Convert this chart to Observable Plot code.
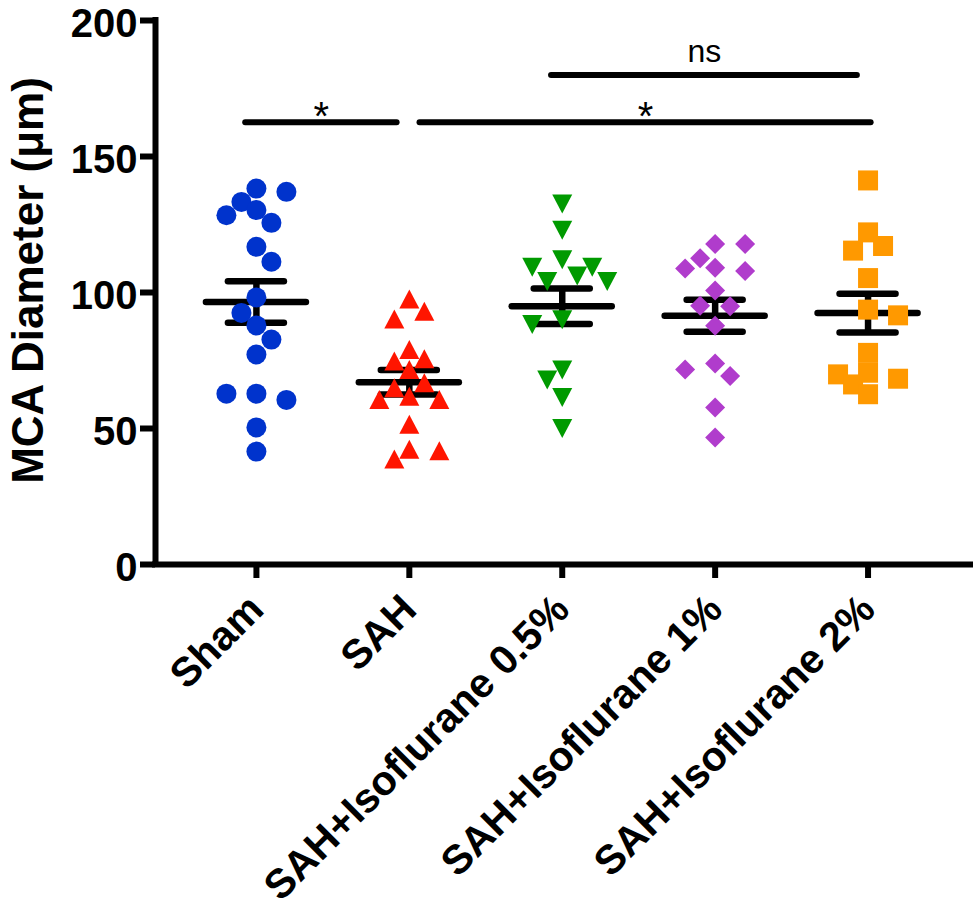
<!DOCTYPE html>
<html>
<head>
<meta charset="utf-8">
<script src="https://cdn.jsdelivr.net/npm/d3@7"></script>
<script src="https://cdn.jsdelivr.net/npm/@observablehq/plot@0.6"></script>
<style>
  html, body { margin: 0; padding: 0; background: #fff; }
</style>
</head>
<body>
<div id="chart"></div>
<script>
// ---------------- data ----------------
const groups = ["Sham", "SAH", "SAH+Isoflurane 0.5%", "SAH+Isoflurane 1%", "SAH+Isoflurane 2%"];
const sham  = [138.2, 137, 133.3, 128.4, 130.3, 125.6, 116.8, 111.3, 98.2, 92.5, 87.9, 82.7, 77.2, 62.8, 60.5, 62.8, 50.4, 41.5];
const sah   = [97.6, 93.1, 90.3, 79.0, 75.6, 74.8, 71.7, 66.8, 65.0, 61.9, 60.7, 60.7, 51.6, 42.4, 41.8, 38.8];
const iso05 = [132.5, 122.9, 112, 109.3, 109.3, 106.1, 104, 104, 88.2, 90, 71.5, 67.8, 61.4, 50];
const iso1  = [117.8, 117.8, 112.6, 109.1, 107.9, 108.8, 100.7, 95.1, 94.9, 87.8, 71.7, 73.9, 69.3, 57.7, 46.7];
const iso2  = [141.2, 122.1, 117.1, 115.4, 105.3, 91.6, 93.7, 77.8, 70.5, 68.3, 69.9, 66.2, 62.6];
const series = [sham, sah, iso05, iso1, iso2];
const yTicks = [0, 50, 100, 150, 200];
const yLabel = "MCA Diameter (μm)";
// significance comparisons
const compFrom  = [0, 1, 2];
const compTo    = [1, 4, 4];
const compLabel = ["*", "*", "ns"];
const compLevel = [162.6, 162.6, 180];

// ---------------- styles ----------------
const colors = ["#0033CC", "#FF1500", "#009A00", "#B03CCC", "#FF9900"];
const W = 975, H = 911;
const mt = 20, mb = 347, ml = 155, mr = 5;
const xMin = -0.66, xMax = 4.67;
const font = "'Liberation Sans', Arial, Helvetica, sans-serif";
const compInset = [[-0.07, -0.08], [0.07, 0.02], [-0.07, -0.07]];

const rOf = s => Math.sqrt(s / Math.PI);
const symbols = [
  {draw(c, s) { const r = rOf(s); c.moveTo(r, 0); c.arc(0, 0, r, 0, 2 * Math.PI); }},
  {draw(c, s) { const r = rOf(s), h = r * 0.95; c.moveTo(0, -h); c.lineTo(r, h); c.lineTo(-r, h); c.closePath(); }},
  {draw(c, s) { const r = rOf(s), h = r * 0.95; c.moveTo(0, h); c.lineTo(r, -h); c.lineTo(-r, -h); c.closePath(); }},
  {draw(c, s) { const r = rOf(s); c.moveTo(0, -r); c.lineTo(r, 0); c.lineTo(0, r); c.lineTo(-r, 0); c.closePath(); }},
  {draw(c, s) { const r = rOf(s); c.moveTo(-r, -r); c.lineTo(r, -r); c.lineTo(r, r); c.lineTo(-r, r); c.closePath(); }}
];
const symR = [10, 10, 10, 10, 10];

// ---------------- layout helpers ----------------
const pxPerY = (H - mt - mb) / 200;
const pxPerX = (W - ml - mr) / (xMax - xMin);

function swarm(vals, step = 15, D = 17) {
  const idx = d3.range(vals.length).sort((a, b) => vals[b] - vals[a]);
  const placed = [];
  const off = new Array(vals.length);
  let sum = 0;
  for (const i of idx) {
    const y = vals[i] * pxPerY;
    for (let k = 0; k < 50; k++) {
      const cands = k === 0 ? [0] : (sum > 0 ? [-k * step, k * step] : [k * step, -k * step]);
      let found = null;
      for (const c of cands) {
        if (placed.every(p => Math.hypot(p.x - c, p.y - y) >= D)) { found = c; break; }
      }
      if (found !== null) { off[i] = found; placed.push({x: found, y}); sum += found; break; }
    }
  }
  return off;
}

const points = series.map((vals, g) => {
  const off = swarm(vals);
  return vals.map((v, j) => ({g, v, x: g + off[j] / pxPerX}));
});

const stats = series.map((vals, g) => {
  const mean = d3.mean(vals);
  const sem = d3.deviation(vals) / Math.sqrt(vals.length);
  return {g, mean, lo: mean - sem, hi: mean + sem};
});

const comps = compFrom.map((f, i) => {
  const x1 = f + compInset[i][0], x2 = compTo[i] + compInset[i][1];
  return {x1, x2, mid: (x1 + x2) / 2, level: compLevel[i], label: compLabel[i]};
});

const meanHalf = 50 / pxPerX, capHalf = 28 / pxPerX;
const yTickLen = 15 / pxPerX;

const chart = Plot.plot({
  width: W,
  height: H,
  marginTop: mt, marginBottom: mb, marginLeft: ml, marginRight: mr,
  style: {fontFamily: font, color: "#000", background: "#fff", overflow: "visible"},
  x: {domain: [xMin, xMax]},
  y: {domain: [0, 200]},
  marks: [
    // axes
    Plot.axisY({ticks: yTicks, tickSize: 0, tickPadding: 18, dy: 4, fontSize: 40, fontWeight: "bold", label: null, tickFormat: d => String(d)}),
    Plot.ruleY(yTicks, {x1: xMin - yTickLen, x2: xMin, strokeWidth: 6}),
    Plot.axisX({ticks: d3.range(groups.length), tickFormat: i => groups[i], tickRotate: -45, tickSize: 14, tickPadding: 24, strokeWidth: 6, fontSize: 41, fontWeight: "bold", label: null}),
    Plot.ruleX([xMin], {y1: 0, y2: 200, strokeWidth: 6, strokeLinecap: "square"}),
    Plot.ruleY([0], {x1: xMin, x2: xMax, strokeWidth: 6, strokeLinecap: "square"}),
    Plot.text([yLabel], {text: d => d, frameAnchor: "left", textAnchor: "middle", dx: -127, dy: -12, rotate: -90, fontSize: 44, fontWeight: "bold"}),
    // mean ± SEM
    Plot.ruleY(stats, {y: "mean", x1: d => d.g - meanHalf, x2: d => d.g + meanHalf, strokeWidth: 6.5, strokeLinecap: "round"}),
    Plot.ruleY(stats, {y: "hi", x1: d => d.g - capHalf, x2: d => d.g + capHalf, strokeWidth: 6.5, strokeLinecap: "round"}),
    Plot.ruleY(stats, {y: "lo", x1: d => d.g - capHalf, x2: d => d.g + capHalf, strokeWidth: 6.5, strokeLinecap: "round"}),
    Plot.ruleX(stats, {x: "g", y1: "lo", y2: "hi", strokeWidth: 6.5}),
    // points
    ...points.map((pts, g) => Plot.dot(pts, {x: "x", y: "v", symbol: symbols[g], r: symR[g], fill: colors[g], stroke: null})),
    // significance
    Plot.ruleY(comps, {y: "level", x1: "x1", x2: "x2", strokeWidth: 6, strokeLinecap: "round"}),
    Plot.text(comps.filter(d => d.label !== "ns"), {x: "mid", y: "level", text: "label", lineAnchor: "bottom", dy: 8, fontSize: 40}),
    Plot.text(comps.filter(d => d.label === "ns"), {x: "mid", y: "level", text: "label", lineAnchor: "bottom", dy: -13, fontSize: 32})
  ]
});
document.getElementById("chart").appendChild(chart);
</script>
</body>
</html>
